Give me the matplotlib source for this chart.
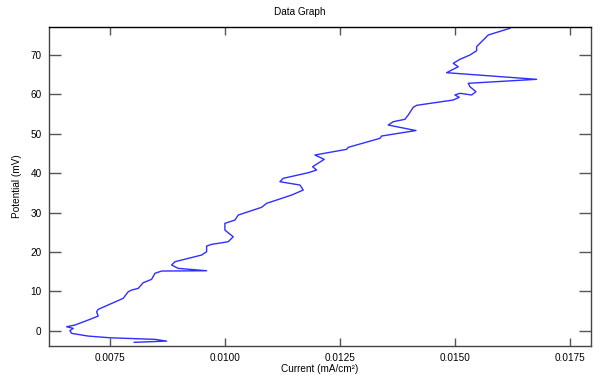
import numpy as np
import matplotlib
matplotlib.use("Agg")
import matplotlib.pyplot as plt

plt.rcParams['font.family'] = ['Liberation Sans', 'DejaVu Sans']

# bottom of the sweep to the top
current = [0.008028, 0.008732, 0.008478, 0.007500, 0.007028, 0.006667, 0.006630,
           0.006702, 0.006558, 0.006739, 0.007065, 0.007245, 0.007210, 0.007245,
           0.007571, 0.007789, 0.007897, 0.007971, 0.008115, 0.008223, 0.008406,
           0.008478, 0.008623, 0.009602, 0.008984, 0.008841, 0.008913, 0.009493,
           0.009602, 0.009602, 0.009711, 0.010071, 0.010180, 0.009999, 0.009999,
           0.010217, 0.010289, 0.010797, 0.010906, 0.011450, 0.011702, 0.011630,
           0.011195, 0.011267, 0.011810, 0.011993, 0.011906, 0.012158, 0.011956,
           0.012645, 0.012680, 0.013369, 0.013406, 0.014152, 0.013549, 0.013658,
           0.013912, 0.013984, 0.014093, 0.014167, 0.014963, 0.015093, 0.014999,
           0.015108, 0.015362, 0.015456, 0.015326, 0.015289, 0.016776, 0.014819,
           0.014963, 0.015071, 0.014963, 0.015108, 0.015326, 0.015471, 0.015471,
           0.015543, 0.015652, 0.015723, 0.016195]
potential = [-2.94, -2.62, -2.18, -1.78, -1.35, -0.66, 0.00,
             0.61, 1.02, 1.45, 2.89, 3.73, 4.82, 5.43,
             7.11, 8.23, 9.90, 10.33, 10.76, 12.19, 13.05,
             14.57, 15.16, 15.23, 15.84, 16.68, 17.52, 19.22,
             20.06, 21.50, 21.93, 22.59, 23.86, 25.56, 27.27,
             28.10, 29.37, 31.33, 32.34, 34.45, 35.72, 36.99,
             37.83, 38.69, 40.11, 40.80, 41.63, 43.51, 44.61,
             46.05, 46.56, 48.84, 49.43, 50.82, 52.22, 53.06,
             53.67, 54.76, 56.71, 57.22, 58.57, 59.25, 59.84,
             60.27, 59.84, 60.68, 61.94, 62.81, 63.82, 65.50,
             66.37, 67.02, 67.89, 68.90, 69.99, 71.08, 72.10,
             72.96, 74.23, 75.07, 76.77]

xticks = [0.0075, 0.0100, 0.0125, 0.0150, 0.0175]
yticks = [0, 10, 20, 30, 40, 50, 60, 70]

fig = plt.figure(figsize=(6, 3.75), dpi=100)
ax = fig.add_axes([0.081, 0.077, 0.904, 0.851])

ax.plot(current, potential, color='#2f2fff', lw=1.0, solid_joinstyle='round')

ax.set_xlim(0.006167, 0.017957)
ax.set_ylim(-3.9, 77.1)
ax.set_xticks(xticks)
ax.set_xticklabels(['%.4f' % t for t in xticks])
ax.set_yticks(yticks)

ax.tick_params(axis='x', direction='in', length=5.8, width=1, color='#555555',
               labelsize=7.2, pad=5, top=True)
ax.tick_params(axis='y', direction='in', length=8.6, width=1, color='#555555',
               labelsize=7.2, pad=5, right=True)
for s in ax.spines.values():
    s.set_color('#444444')
    s.set_linewidth(1)
ax.spines['top'].set_color('black')

ax.set_xlabel('Current (mA/cm²)', fontsize=7.2, labelpad=1)
ax.set_ylabel('Potential (mV)', fontsize=7.2, labelpad=6)
fig.text(0.5, 0.968, 'Data Graph', ha='center', va='center', fontsize=7.2)

fig.savefig('out.png', dpi=100)
